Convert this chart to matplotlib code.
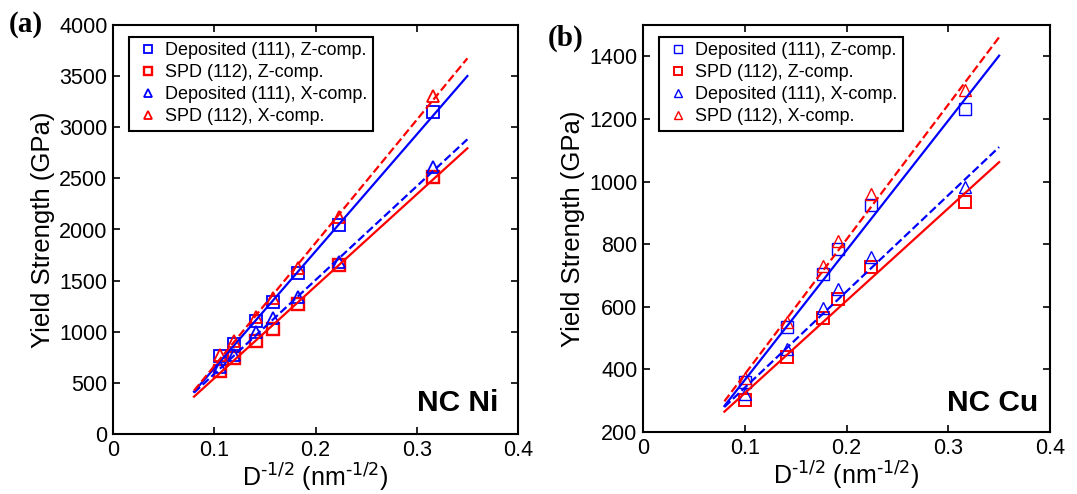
import matplotlib
matplotlib.use("Agg")
import matplotlib.pyplot as plt

# === DATOS ===
# (a) NC Ni
x_ni = [0.1054, 0.1195, 0.1414, 0.1581, 0.1826, 0.2236, 0.3162]
dep_z_ni = [760, 885, 1110, 1290, 1570, 2045, 3145]
spd_z_ni = [615, 740, 905, 1030, 1270, 1655, 2510]
dep_x_ni = [655, 775, 1000, 1130, 1340, 1685, 2610]
spd_x_ni = [775, 910, 1140, 1330, 1620, 2120, 3310]

# (b) NC Cu
x_cu = [0.1, 0.1414, 0.1768, 0.1917, 0.2236, 0.3162]
dep_z_cu = [359, 535, 704, 784, 925, 1232]
spd_z_cu = [301, 439, 563, 625, 726, 936]
dep_x_cu = [322, 465, 595, 657, 760, 981]
spd_x_cu = [372, 550, 731, 811, 959, 1292]

# Rectas de ajuste (extremos)
fit_x = [0.08, 0.35]
fit_dep_z_ni = [414, 3501]
fit_spd_z_ni = [365, 2794]
fit_dep_x_ni = [404, 2882]
fit_spd_x_ni = [424, 3674]

fit_dep_z_cu = [283, 1402]
fit_spd_z_cu = [265, 1062]
fit_dep_x_cu = [280, 1110]
fit_spd_x_cu = [298, 1461]

labels = ["Deposited (111), Z-comp.", "SPD (112), Z-comp.",
          "Deposited (111), X-comp.", "SPD (112), X-comp."]

plt.rcParams['font.family'] = ['Liberation Sans', 'DejaVu Sans']
plt.rcParams['mathtext.default'] = 'regular'

fig = plt.figure(figsize=(10.77, 4.94), dpi=100)
ax_a = fig.add_axes([113 / 1077, 60 / 494, 405 / 1077, 409 / 494])
ax_b = fig.add_axes([643 / 1077, 62 / 494, 407 / 1077, 407 / 494])

blue = '#0000ff'
red = '#ff0000'


def panel(ax, x, dz, sz, dx, sx, fdz, fsz, fdx, fsx, mew):
    ax.plot(x, dz, 's', mfc='none', mec=blue, ms=8, mew=mew, label=labels[0])
    ax.plot(x, sz, 's', mfc='none', mec=red, ms=8, mew=mew + 0.4, label=labels[1])
    ax.plot(x, dx, '^', mfc='none', mec=blue, ms=8, mew=mew, label=labels[2])
    ax.plot(x, sx, '^', mfc='none', mec=red, ms=8, mew=mew, label=labels[3])
    ax.plot(fit_x, fdz, '-', color=blue, lw=1.6)
    ax.plot(fit_x, fsz, '-', color=red, lw=1.6)
    ax.plot(fit_x, fdx, '--', color=blue, lw=1.6)
    ax.plot(fit_x, fsx, '--', color=red, lw=1.6)
    ax.set_xlim(0, 0.4)
    ax.set_xticks([0, 0.1, 0.2, 0.3, 0.4])
    ax.set_xticklabels(['0', '0.1', '0.2', '0.3', '0.4'])
    ax.tick_params(direction='in', top=True, right=True, labelsize=15.5,
                   length=5, width=1.2, pad=4)
    for s in ax.spines.values():
        s.set_linewidth(1.5)
    ax.set_xlabel(r'D$^{\text{-1/2}}$ (nm$^{\text{-1/2}}$)', fontsize=18, labelpad=1)
    ax.set_ylabel('Yield Strength (GPa)', fontsize=18.5, labelpad=3)
    leg = ax.legend(loc='upper left', bbox_to_anchor=(0.04, 0.971), fontsize=13,
                    fancybox=False, edgecolor='black', framealpha=1,
                    handletextpad=0.2, labelspacing=0.28, borderpad=0.3,
                    handlelength=1.5, borderaxespad=0, markerscale=0.75)
    leg.get_frame().set_linewidth(1.5)


panel(ax_a, x_ni, dep_z_ni, spd_z_ni, dep_x_ni, spd_x_ni,
      fit_dep_z_ni, fit_spd_z_ni, fit_dep_x_ni, fit_spd_x_ni, 1.3)
ax_a.set_ylim(0, 4000)
ax_a.set_yticks(range(0, 4001, 500))
ax_a.text(0.951, 0.042, 'NC Ni', transform=ax_a.transAxes, ha='right', va='bottom',
          fontsize=21.5, fontweight='bold')

panel(ax_b, x_cu, dep_z_cu, spd_z_cu, dep_x_cu, spd_x_cu,
      fit_dep_z_cu, fit_spd_z_cu, fit_dep_x_cu, fit_spd_x_cu, 1.0)
ax_b.set_ylim(200, 1500)
ax_b.set_yticks(range(200, 1401, 200))
ax_b.text(0.971, 0.037, 'NC Cu', transform=ax_b.transAxes, ha='right', va='bottom',
          fontsize=21.5, fontweight='bold')

fig.text(26 / 1077, 1 - 24 / 494, '(a)', ha='center', va='center', fontsize=21,
         fontweight='bold', family='Liberation Serif')
fig.text(566 / 1077, 1 - 38 / 494, '(b)', ha='center', va='center', fontsize=21,
         fontweight='bold', family='Liberation Serif')

plt.savefig('out.png', dpi=100)
plt.close()
